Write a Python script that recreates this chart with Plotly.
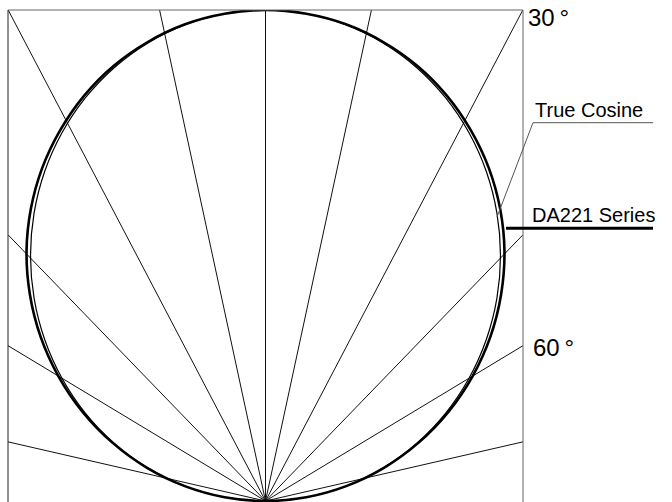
import numpy as np
import plotly.graph_objects as go

# ---- data (angles from vertical, degrees; relative response) ----
angles_deg = [0, 5, 10, 15, 20, 25, 30, 35, 40, 45, 50, 55, 60, 65, 70, 75, 80, 85, 90]
true_cosine = [1.0, 0.9962, 0.9848, 0.9659, 0.9397, 0.9063, 0.8660, 0.8192, 0.7660,
               0.7071, 0.6428, 0.5736, 0.5000, 0.4226, 0.3420, 0.2588, 0.1736, 0.0872, 0.0]
da221_series = [1.000, 0.996, 0.9858, 0.9678, 0.9435, 0.9117, 0.8729, 0.8282, 0.7767,
                0.7191, 0.6544, 0.5845, 0.5090, 0.4294, 0.3461, 0.2609, 0.1743, 0.0872, 0.0]
ray_angles_deg = [12.7, 28.7, 45.3, 60.0, 77.6]
angle_labels = ["30\u2009°", "60\u2009°"]
series_names = ["True Cosine", "DA221 Series"]

XMAX = 0.5479
YMIN = -1 / 491

def polar_xy(ang, r):
    a = np.radians(np.concatenate([-np.array(ang[::-1]), np.array(ang[1:])]))
    rr = np.concatenate([np.array(r[::-1]), np.array(r[1:])])
    return rr * np.sin(a), rr * np.cos(a)

fig = go.Figure()

# rays
rx, ry = [], []
for a in [-v for v in ray_angles_deg[::-1]] + [0] + ray_angles_deg:
    t = np.radians(a)
    s, c = np.sin(t), np.cos(t)
    L = 1 / c if abs(s) < 1e-9 else min(XMAX / abs(s), 1 / c)
    rx += [0, L * s, None]
    ry += [0, L * c, None]
fig.add_trace(go.Scatter(x=rx, y=ry, mode="lines", line=dict(color="#111", width=1),
                         hoverinfo="skip", showlegend=False))

x1, y1 = polar_xy(angles_deg, true_cosine)
fig.add_trace(go.Scatter(x=x1, y=y1, mode="lines", line=dict(color="#000", width=1.2, shape="spline"),
                         name=series_names[0], showlegend=False))
x2, y2 = polar_xy(angles_deg, da221_series)
fig.add_trace(go.Scatter(x=x2, y=y2, mode="lines", line=dict(color="#000", width=2.6, shape="spline"),
                         name=series_names[1], showlegend=False))

W, H = 672, 502
L_, R_, T_, B_ = 8, 149, 10, 0
PW, PH = W - L_ - R_, H - T_ - B_

def px(x):  # page pixel -> paper
    return (x - L_) / PW

def py(y):
    return (H - B_ - y) / PH

font = "Liberation Sans, Arial, sans-serif"
shapes = [
    dict(type="line", xref="paper", yref="paper", x0=0, x1=0, y0=0, y1=1, line=dict(color="#222", width=1)),
    dict(type="line", xref="paper", yref="paper", x0=1, x1=1, y0=0, y1=1, line=dict(color="#666", width=1)),
    dict(type="line", xref="paper", yref="paper", x0=0, x1=1, y0=1, y1=1, line=dict(color="#666", width=1)),
    # True Cosine leader
    dict(type="path", xref="paper", yref="paper",
         path=f"M {px(497)} {py(217)} L {px(533)} {py(122.7)} L {px(653)} {py(122.7)}",
         line=dict(color="#555", width=1)),
    # DA221 leader
    dict(type="line", xref="paper", yref="paper", x0=px(506), x1=px(653), y0=py(228.3), y1=py(228.3),
         line=dict(color="#000", width=3)),
]

annotations = [
    dict(text=angle_labels[0], x=px(526), y=py(18), xref="paper", yref="paper", xanchor="left",
         yanchor="middle", showarrow=False, font=dict(family=font, size=24, color="#000")),
    dict(text=angle_labels[1], x=px(531), y=py(347.5), xref="paper", yref="paper", xanchor="left",
         yanchor="middle", showarrow=False, font=dict(family=font, size=24, color="#000")),
    dict(text=series_names[0], x=px(533), y=py(109.5), xref="paper", yref="paper", xanchor="left",
         yanchor="middle", showarrow=False, font=dict(family=font, size=20, color="#000")),
    dict(text=series_names[1], x=px(530), y=py(214.5), xref="paper", yref="paper", xanchor="left",
         yanchor="middle", showarrow=False, font=dict(family=font, size=20, color="#000")),
]

fig.update_layout(
    width=W, height=H, margin=dict(l=L_, r=R_, t=T_, b=B_, pad=0),
    paper_bgcolor="white", plot_bgcolor="white",
    xaxis=dict(range=[-XMAX, XMAX], visible=False, fixedrange=True),
    yaxis=dict(range=[YMIN, 1], visible=False, fixedrange=True),
    shapes=shapes, annotations=annotations, showlegend=False, hovermode=False,
)

fig.write_html("out.html", config={"displayModeBar": False, "staticPlot": True},
               post_script="document.body.style.margin='0';document.body.style.overflow='hidden';")
